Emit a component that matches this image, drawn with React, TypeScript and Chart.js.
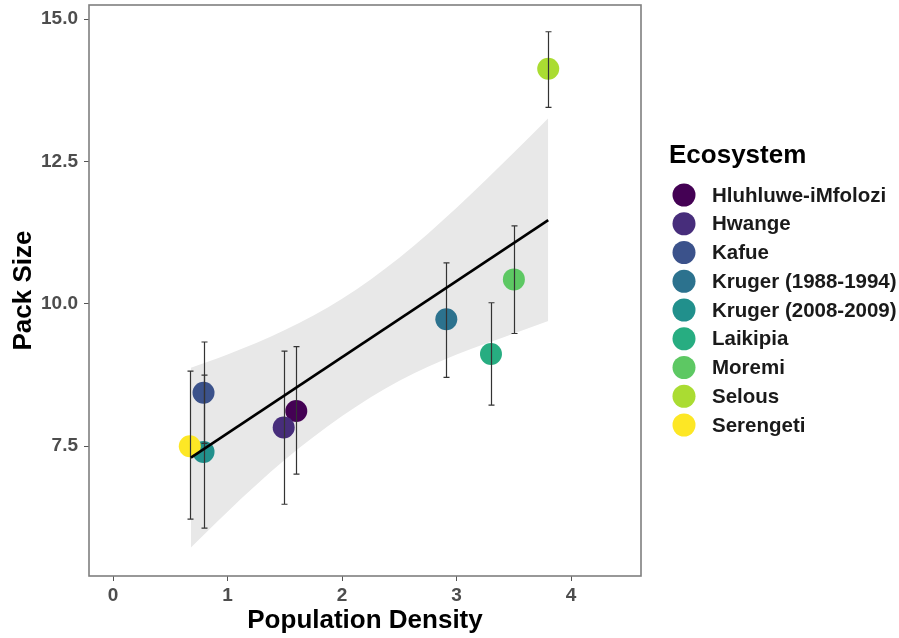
import { useEffect, useRef } from 'react';
import { Chart, registerables } from 'chart.js';
Chart.register(...registerables);

const FONT = '"Liberation Sans", Arial, Helvetica, sans-serif';

const ecosystems = [
  'Hluhluwe-iMfolozi',
  'Hwange',
  'Kafue',
  'Kruger (1988-1994)',
  'Kruger (2008-2009)',
  'Laikipia',
  'Moremi',
  'Selous',
  'Serengeti',
];
const density = [1.60, 1.49, 0.79, 2.91, 0.79, 3.30, 3.50, 3.80, 0.67];
const packSize = [8.12, 7.83, 8.44, 9.73, 7.40, 9.12, 10.43, 14.13, 7.50];
const errLow = [7.01, 6.48, 7.55, 8.71, 6.06, 8.22, 9.48, 13.45, 6.22];
const errHigh = [9.25, 9.17, 9.33, 10.72, 8.75, 10.02, 11.37, 14.78, 8.82];
const colors = ['#440154', '#472D7B', '#3B528B', '#2C728E', '#21908C', '#27AD81', '#5DC863', '#AADC32', '#FDE725'];

const fitX = [0.68, 3.80];
const fitY = [7.30, 11.47];

const bandX = [0.68, 1.0, 1.5, 2.0, 2.5, 3.0, 3.5, 3.80];
const bandHigh = [8.88, 9.11, 9.54, 10.09, 10.81, 11.69, 12.66, 13.26];
const bandLow = [5.72, 6.35, 7.26, 8.03, 8.65, 9.11, 9.48, 9.70];

const xTicks = [0, 1, 2, 3, 4];
const yTicks = [7.5, 10, 12.5, 15];

const xTitle = 'Population Density';
const yTitle = 'Pack Size';
const legendTitle = 'Ecosystem';

const errorBarPlugin = {
  id: 'errorBars',
  afterDatasetDraw(chart: any, args: any) {
    if (args.index !== 1) return;
    const { ctx, scales } = chart;
    const xs = scales.x;
    const ys = scales.y;
    ctx.save();
    ctx.strokeStyle = '#333333';
    ctx.lineWidth = 1.2;
    density.forEach((d, i) => {
      const px = Math.round(xs.getPixelForValue(d)) + 0.5;
      const top = ys.getPixelForValue(errHigh[i]);
      const bot = ys.getPixelForValue(errLow[i]);
      ctx.beginPath();
      ctx.moveTo(px, top);
      ctx.lineTo(px, bot);
      ctx.moveTo(px - 3, top);
      ctx.lineTo(px + 3, top);
      ctx.moveTo(px - 3, bot);
      ctx.lineTo(px + 3, bot);
      ctx.stroke();
    });
    ctx.restore();
  },
};

const panelPlugin = {
  id: 'panelBorder',
  afterDraw(chart: any) {
    const { ctx, chartArea } = chart;
    ctx.save();
    ctx.strokeStyle = '#7f7f7f';
    ctx.lineWidth = 1.6;
    ctx.strokeRect(chartArea.left, chartArea.top, chartArea.right - chartArea.left, chartArea.bottom - chartArea.top);
    ctx.restore();
  },
};

const legendPlugin = {
  id: 'customLegend',
  afterDraw(chart: any) {
    const ctx = chart.ctx;
    ctx.save();
    ctx.textAlign = 'left';
    ctx.textBaseline = 'alphabetic';
    ctx.fillStyle = '#000000';
    ctx.font = `bold 26px ${FONT}`;
    ctx.fillText(legendTitle, 669, 163);
    ecosystems.forEach((name, i) => {
      const cy = 195 + i * 28.75;
      ctx.beginPath();
      ctx.arc(684, cy, 11.5, 0, Math.PI * 2);
      ctx.fillStyle = colors[i];
      ctx.fill();
      ctx.fillStyle = '#1a1a1a';
      ctx.font = `bold 20.5px ${FONT}`;
      ctx.textBaseline = 'middle';
      ctx.fillText(name, 712, cy + 1);
    });
    ctx.restore();
  },
};

export default function App() {
  const ref = useRef<HTMLCanvasElement>(null);

  useEffect(() => {
    const canvas = ref.current;
    if (!canvas) return;
    const chart = new Chart(canvas, {
      type: 'scatter',
      data: {
        datasets: [
          {
            type: 'line',
            label: 'fit',
            data: fitX.map((x, i) => ({ x, y: fitY[i] })),
            borderColor: '#000000',
            borderWidth: 2.6,
            pointRadius: 0,
            fill: false,
            order: 0,
          } as any,
          {
            type: 'scatter',
            label: 'points',
            data: density.map((x, i) => ({ x, y: packSize[i] })),
            backgroundColor: colors,
            pointBackgroundColor: colors,
            borderColor: colors,
            pointRadius: 11,
            pointBorderWidth: 0,
            order: 1,
          } as any,
          {
            type: 'line',
            label: 'bandHigh',
            data: bandX.map((x, i) => ({ x, y: bandHigh[i] })),
            borderColor: 'transparent',
            borderWidth: 0,
            backgroundColor: '#e8e8e8',
            pointRadius: 0,
            fill: '+1',
            cubicInterpolationMode: 'monotone',
            order: 2,
          } as any,
          {
            type: 'line',
            label: 'bandLow',
            data: bandX.map((x, i) => ({ x, y: bandLow[i] })),
            borderColor: 'transparent',
            borderWidth: 0,
            pointRadius: 0,
            fill: false,
            cubicInterpolationMode: 'monotone',
            order: 3,
          } as any,
        ],
      },
      options: {
        animation: false,
        responsive: false,
        devicePixelRatio: 1,
        layout: { autoPadding: false, padding: { top: 5, right: 258, bottom: 0, left: 0 } },
        plugins: {
          legend: { display: false },
          tooltip: { enabled: false },
        },
        scales: {
          x: {
            type: 'linear',
            min: -0.21,
            max: 4.61,
            afterBuildTicks: (s: any) => {
              s.ticks = xTicks.map((v) => ({ value: v }));
            },
            afterFit: (s: any) => {
              s.height = 62;
              s.paddingLeft = 0;
              s.paddingRight = 0;
            },
            grid: { display: true, drawOnChartArea: false, drawTicks: true, tickLength: 5, tickColor: '#555555', tickWidth: 1 },
            border: { display: false },
            ticks: {
              color: '#4d4d4d',
              font: { family: FONT, size: 19, weight: 'bold' },
              padding: 3,
              maxRotation: 0,
              callback: (v: any) => String(v),
            },
            title: {
              display: true,
              text: xTitle,
              color: '#000000',
              font: { family: FONT, size: 26, weight: 'bold' },
              padding: { top: 0, bottom: 2 },
            },
          },
          y: {
            type: 'linear',
            min: 5.22,
            max: 15.25,
            afterBuildTicks: (s: any) => {
              s.ticks = yTicks.map((v) => ({ value: v }));
            },
            afterFit: (s: any) => {
              s.width = 89;
              s.paddingTop = 0;
              s.paddingBottom = 0;
            },
            grid: { display: true, drawOnChartArea: false, drawTicks: true, tickLength: 5, tickColor: '#555555', tickWidth: 1 },
            border: { display: false },
            ticks: {
              color: '#4d4d4d',
              font: { family: FONT, size: 19, weight: 'bold' },
              padding: 6,
              callback: (v: any) => Number(v).toFixed(1),
            },
            title: {
              display: true,
              text: yTitle,
              color: '#000000',
              font: { family: FONT, size: 26, weight: 'bold' },
              padding: { top: 8, bottom: 0 },
            },
          },
        },
      } as any,
      plugins: [errorBarPlugin, panelPlugin, legendPlugin],
    });
    return () => chart.destroy();
  }, []);

  return (
    <div style={{ position: 'fixed', left: 0, top: 0, width: 899, height: 638, background: '#ffffff' }}>
      <canvas ref={ref} width={899} height={638} style={{ display: 'block', width: 899, height: 638 }} />
    </div>
  );
}
